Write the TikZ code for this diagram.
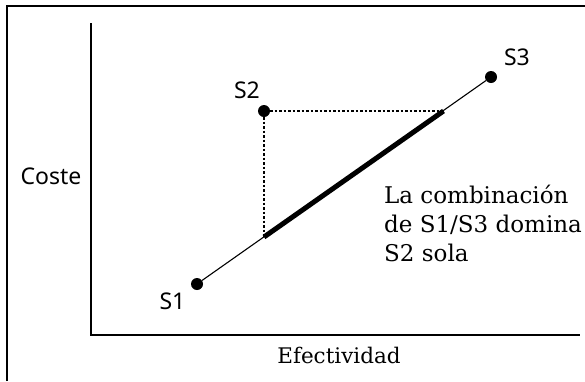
\documentclass[tikz,border=0pt]{standalone}
\usepackage{fontspec}
\setmainfont{DejaVu Serif}
\newfontfamily\lblfont{Noto Sans}
\begin{document}
\begin{tikzpicture}[
  x=1pt, y=-1pt,
  dot/.style={circle, fill=black, inner sep=0pt, minimum size=12pt},
  lbl/.style={font=\lblfont\fontsize{23}{27}\selectfont, inner sep=0pt},
  txt/.style={font=\fontsize{21.5}{29}\selectfont, inner sep=0pt},
  ax/.style={line width=1.4pt},
  e/.style={line width=1.1pt},
  dom/.style={line width=5pt},
  proj/.style={line width=1.1pt, dash pattern=on 2.5pt off 2pt}
]
\useasboundingbox (0,0) rectangle (585,381);

% frame and axes
\draw[ax] (7,381) -- (7,6) -- (585,6);
\draw[ax] (91,23) -- (91,335) -- (580,335);

% strategies
\node[dot] (s1) at (197,284) {};
\node[dot] (s2) at (264,111) {};
\node[dot] (s3) at (491,77) {};
\coordinate (a) at (264,237);
\coordinate (b) at (443.5,111);

% labels
\node[lbl] (l1) at (172.5,301) {S1};
\node[lbl] (l2) at (247,90) {S2};
\node[lbl] (l3) at (517,57) {S3};
\node[lbl] (cost) at (51,176) {Coste};
\node[txt] (eff) at (339,355) {Efectividad};
\node[txt, font=\fontsize{23}{29}\selectfont, anchor=base west, align=left] (note) at (384,261.7)
  {La combinación\\de S1/S3 domina\\S2 sola};

% lines
\draw[e] (s1) -- (s3);
\draw[proj] (s2) -- (a);
\draw[proj] (s2) -- (b);
\draw[dom] (a) -- (b);

\end{tikzpicture}
\end{document}
